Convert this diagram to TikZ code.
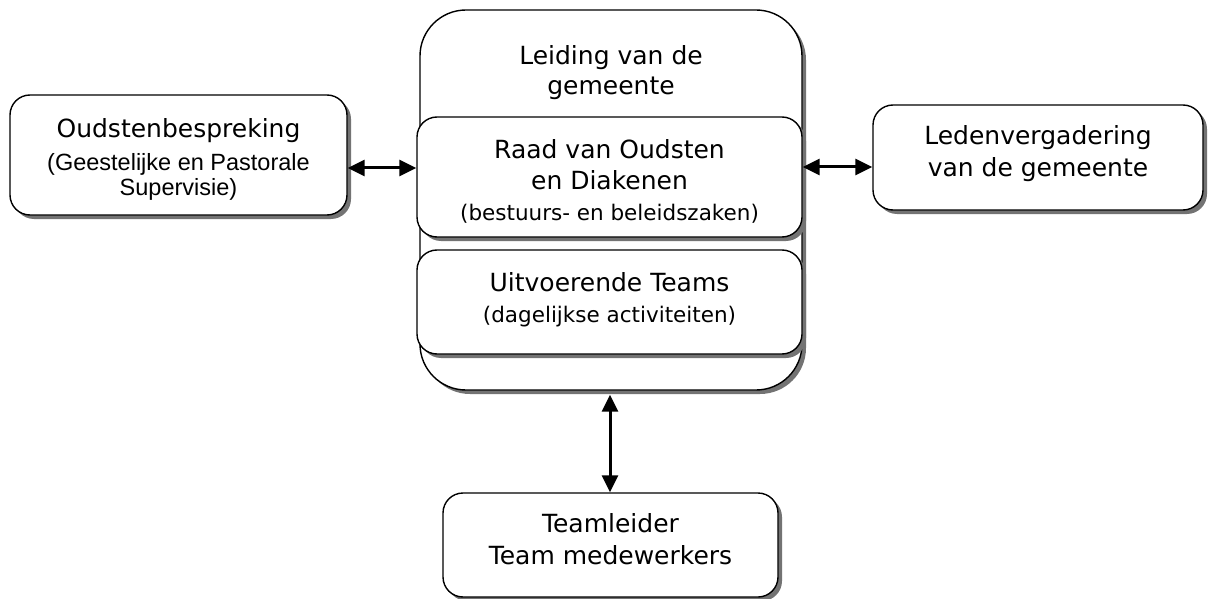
\documentclass[tikz,border=0pt]{standalone}
\usepackage{fontspec}
\setmainfont{DejaVu Sans}
\newfontfamily\arialfont{Liberation Sans}
\usetikzlibrary{shadows,arrows.meta}
\newcommand{\sm}{\fontsize{21.5}{31}\selectfont}
\begin{document}
\begin{tikzpicture}[x=1pt,y=-1pt,
  box/.style={draw=black, line width=1.4pt, fill=white, align=center, inner sep=0pt,
    drop shadow={shadow xshift=4pt, shadow yshift=-4pt, fill=black!55, opacity=1}},
  txt/.style={align=center, inner sep=0pt, font=\fontsize{25}{31}\selectfont},
  link/.style={line width=3pt, {Triangle[length=17pt,width=16pt]}-{Triangle[length=17pt,width=16pt]}}]
\useasboundingbox (0,0) rectangle (1208,599);
% central container
\node[box, rounded corners=46pt, minimum width=382pt, minimum height=380pt] (lead) at (611,200) {};
\node[txt] (leadt) at (611,73) {Leiding van de\\[-1pt]gemeente};
% inner boxes
\node[box, rounded corners=20pt, minimum width=385pt, minimum height=120pt] (raad) at (609.5,177) {};
\node[txt] (raadt) at (609.5,181) {Raad van Oudsten\\en Diakenen\\{\sm (bestuurs- en beleidszaken)}};
\node[box, rounded corners=20pt, minimum width=385pt, minimum height=104pt] (uit) at (609.5,302) {};
\node[txt] (uitt) at (609.5,300) {Uitvoerende Teams\\{\sm (dagelijkse activiteiten)}};
% left box
\node[box, rounded corners=20pt, minimum width=337pt, minimum height=120pt] (oud) at (178.5,155) {};
\node[txt] (oudt) at (178.5,159)
  {Oudstenbespreking\\[2pt]{\arialfont\fontsize{23.5}{31}\selectfont (Geestelijke en Pastorale}\\[-6pt]{\arialfont\fontsize{23.5}{31}\selectfont Supervisie)}};
% right box
\node[box, rounded corners=20pt, minimum width=330pt, minimum height=105pt] (leden) at (1038,157.5) {};
\node[txt] (ledent) at (1038,154) {Ledenvergadering\\[1pt]van de gemeente};
% bottom box
\node[box, rounded corners=20pt, minimum width=335pt, minimum height=104pt] (team) at (610.5,545) {};
\node[txt] (teamt) at (610.5,539) {Teamleider\\[1pt]Team medewerkers};
% connectors
\draw[link] (oud.east |- 0,168) -- (raad.west |- 0,168);
\draw[link] (raad.east |- 0,167) -- (leden.west |- 0,167);
\draw[link] (lead.south -| 610,0) ++(0,4) -- (team.north -| 610,0);
\end{tikzpicture}
\end{document}
